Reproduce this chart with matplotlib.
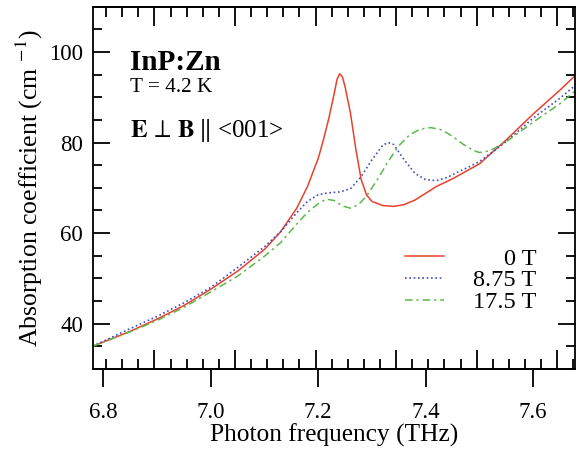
import numpy as np
import matplotlib
matplotlib.use('Agg')
import matplotlib.pyplot as plt
from matplotlib.ticker import MultipleLocator

plt.rcParams['font.family'] = ['Liberation Serif', 'DejaVu Serif']
plt.rcParams['mathtext.fontset'] = 'stix'

# datos (THz, cm^-1)
freq_0T = [6.78, 6.85, 6.90, 6.95, 7.00, 7.05, 7.10, 7.13, 7.16, 7.18, 7.20, 7.21, 7.22,
           7.23, 7.235, 7.24, 7.245, 7.25, 7.26, 7.27, 7.28, 7.29, 7.30, 7.32, 7.34, 7.36,
           7.38, 7.40, 7.42, 7.45, 7.50, 7.55, 7.60, 7.65, 7.68]
alpha_0T = [35.0, 38.3, 41.0, 44.0, 47.6, 51.6, 56.4, 60.3, 65.5, 70.3, 76.5, 80.8, 85.5,
            91.0, 94.0, 95.2, 94.5, 92.3, 86.5, 78.5, 71.8, 68.4, 67.0, 66.1, 65.9, 66.3,
            67.3, 68.8, 70.3, 72.0, 75.3, 80.6, 86.3, 91.6, 95.0]

freq_875T = [6.78, 6.85, 6.90, 6.95, 7.00, 7.05, 7.10, 7.13, 7.16, 7.18, 7.20, 7.22, 7.24,
             7.26, 7.28, 7.30, 7.32, 7.33, 7.34, 7.36, 7.38, 7.40, 7.42, 7.44, 7.46, 7.48,
             7.50, 7.55, 7.60, 7.65, 7.68]
alpha_875T = [35.0, 38.9, 41.6, 44.6, 48.0, 52.4, 57.0, 60.3, 64.5, 67.0, 68.5, 68.9, 69.1,
              69.8, 72.5, 76.2, 79.4, 80.0, 79.6, 76.2, 73.2, 71.8, 71.6, 72.3, 73.5, 74.6,
              75.8, 80.2, 85.4, 89.8, 92.8]

freq_175T = [6.78, 6.85, 6.90, 6.95, 7.00, 7.05, 7.10, 7.13, 7.16, 7.18, 7.20, 7.215, 7.23,
             7.245, 7.26, 7.275, 7.29, 7.31, 7.33, 7.35, 7.37, 7.39, 7.41, 7.43, 7.45, 7.47,
             7.49, 7.50, 7.52, 7.55, 7.60, 7.65, 7.68]
alpha_175T = [35.0, 38.2, 40.7, 43.6, 47.0, 50.5, 54.9, 57.9, 62.0, 64.6, 66.5, 67.5, 67.2,
              66.0, 65.5, 66.3, 68.2, 71.8, 75.8, 79.3, 81.7, 83.0, 83.3, 82.8, 81.4, 79.6,
              78.2, 77.8, 78.2, 80.2, 84.5, 88.6, 91.6]

etiquetas = ['0 T', '8.75 T', '17.5 T']

fig = plt.figure(figsize=(5.76, 4.51), dpi=100)
ax = fig.add_axes([0.161, 0.182, 0.837, 0.803])

l1, = ax.plot(freq_0T, alpha_0T, color='#e8412c', lw=1.1, ls='-')
l2, = ax.plot(freq_875T, alpha_875T, color='#3f4fc0', lw=1.2, ls=(0, (1, 1.6)))
l3, = ax.plot(freq_175T, alpha_175T, color='#5cb84a', lw=1.1, ls=(0, (5, 2.5, 1.5, 2.5)))

ax.set_xlim(6.7803, 7.6776)
ax.set_ylim(30, 110)

for s in ax.spines.values():
    s.set_linewidth(1.3)

ax.xaxis.set_major_locator(MultipleLocator(0.2))
ax.xaxis.set_major_formatter(matplotlib.ticker.FormatStrFormatter('%.1f'))
ax.tick_params(axis='x', which='major', direction='out', length=13, width=1.3,
               top=False, labelsize=16.5, pad=11)
ax.tick_params(axis='x', which='minor', bottom=False, top=False)

ax.yaxis.set_major_locator(MultipleLocator(20))
ax.yaxis.set_minor_locator(MultipleLocator(5))
ax.tick_params(axis='y', which='both', direction='in', left=True, right=True,
               width=1.3, labelsize=16.5, pad=7)
ax.tick_params(axis='y', which='major', length=12)
ax.tick_params(axis='y', which='minor', length=6.5)

# escala en cm^-1 (solo marcas interiores)
conv = 0.0299792458
for lugar in ['bottom', 'top']:
    sec = ax.secondary_xaxis(lugar, functions=(lambda f: f / conv, lambda k: k * conv))
    sec.xaxis.set_major_locator(MultipleLocator(5))
    sec.xaxis.set_minor_locator(MultipleLocator(1))
    sec.tick_params(which='both', direction='in', width=1.3,
                    labelbottom=False, labeltop=False)
    sec.tick_params(which='major', length=13.5)
    sec.tick_params(which='minor', length=7)
    sec.spines[lugar].set_linewidth(1.3)

ax.set_xlabel('Photon frequency (THz)', fontsize=18.3, labelpad=0)
ax.set_ylabel('Absorption coefficient (cm $^{-1}$)', fontsize=18.5, labelpad=3)

ax.text(0.077, 0.825, 'InP:Zn', transform=ax.transAxes, fontsize=21,
        fontweight='bold', va='baseline')
ax.text(0.077, 0.765, 'T = 4.2 K', transform=ax.transAxes, fontsize=15.3, va='baseline')
ax.text(0.077, 0.641, r'$\mathbf{E}\,\perp\,\mathbf{B}\;\Vert\;$<001>', transform=ax.transAxes,
        fontsize=18, va='baseline')

leg = ax.legend([l1, l2, l3], etiquetas, loc='upper left', bbox_to_anchor=(0.6475, 0.335),
                frameon=False, fontsize=17.5, handlelength=1.6, handletextpad=1.2,
                labelspacing=-0.01, borderpad=0, borderaxespad=0)

# alinear texto de la leyenda a la derecha
fig.canvas.draw()
r = fig.canvas.get_renderer()
textos = leg.get_texts()
anchos = [t.get_window_extent(r).width for t in textos]
for t, w in zip(textos, anchos):
    t.set_position((max(anchos) - w, 0))

fig.savefig('out.png', dpi=100)
